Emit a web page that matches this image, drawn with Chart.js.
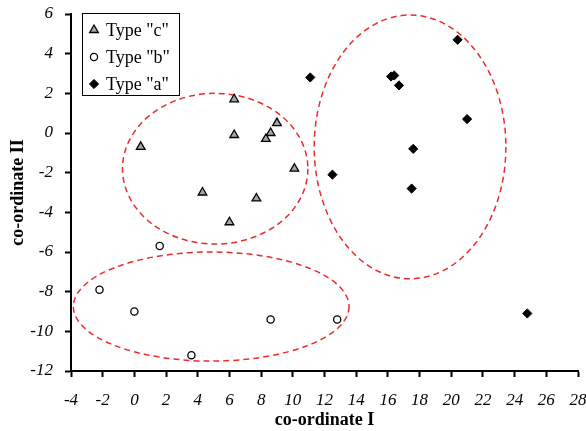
<!DOCTYPE html>
<html>
<head>
<meta charset="utf-8">
<title>co-ordinate I / co-ordinate II</title>
<script src="https://cdn.jsdelivr.net/npm/chart.js@4/dist/chart.umd.min.js"></script>
<style>
  html, body { margin: 0; padding: 0; background: #fff; }
  #wrap { width: 586px; height: 431px; }
</style>
</head>
<body>
<div id="wrap"><canvas id="scatter" width="586" height="431"></canvas></div>
<script>
// data
const seriesNames = ['Type "c"', 'Type "b"', 'Type "a"'];

const typeC_x = [0.4, 6.3, 6.3, 9.0, 8.6, 8.3, 10.1, 4.3, 7.7, 6.0];
const typeC_y = [-0.7, 1.7, -0.1, 0.5, 0.0, -0.3, -1.8, -3.0, -3.3, -4.5];

const typeB_x = [1.6, -2.2, 0.0, 3.6, 8.6, 12.8];
const typeB_y = [-5.7, -7.9, -9.0, -11.2, -9.4, -9.4];

const typeA_x = [11.1, 16.2, 16.4, 16.7, 20.4, 21.0, 17.6, 12.5, 17.5, 24.8];
const typeA_y = [2.8, 2.85, 2.9, 2.4, 4.7, 0.7, -0.8, -2.1, -2.8, -9.1];

// cluster outlines (centre and half-axes, in data units)
const ellipseCx = [5.1, 17.4, 4.85];
const ellipseCy = [-1.8, -0.7, -8.75];
const ellipseRx = [5.85, 6.05, 8.7];
const ellipseRy = [3.8, 6.65, 2.75];

const xMin = -4, xMax = 28, yMin = -12, yMax = 6;

function toPoints(xs, ys) {
    return xs.map((x, i) => ({ x: x, y: ys[i] }));
}

Chart.defaults.font.family = "'Liberation Serif', 'Times New Roman', serif";
Chart.defaults.color = '#000';

// dashed red ellipses round the clusters
const clusterOutlines = {
    id: 'clusterOutlines',
    beforeDatasetsDraw(chart) {
        const ctx = chart.ctx;
        const xs = chart.scales.x, ys = chart.scales.y;
        ctx.save();
        ctx.strokeStyle = '#ee2b2b';
        ctx.lineWidth = 1.5;
        ctx.setLineDash([6, 4]);
        ellipseCx.forEach((cx, i) => {
            const px = xs.getPixelForValue(cx);
            const py = ys.getPixelForValue(ellipseCy[i]);
            const rx = Math.abs(xs.getPixelForValue(cx + ellipseRx[i]) - px);
            const ry = Math.abs(ys.getPixelForValue(ellipseCy[i] + ellipseRy[i]) - py);
            ctx.beginPath();
            ctx.ellipse(px, py, rx, ry, 0, 0, Math.PI * 2);
            ctx.stroke();
        });
        ctx.restore();
    }
};

// boxed legend sitting in the top left corner of the plot
const boxLegend = {
    id: 'boxLegend',
    afterDraw(chart) {
        const ctx = chart.ctx;
        const area = chart.chartArea;
        const left = area.left + 11, top = area.top - 1;
        const w = 97, rowH = 27;
        ctx.save();
        ctx.fillStyle = '#fff';
        ctx.fillRect(left, top, w, rowH * 3 + 1);
        ctx.strokeStyle = '#000';
        ctx.lineWidth = 1;
        ctx.strokeRect(left + 0.5, top + 0.5, w, rowH * 3 + 1);
        chart.data.datasets.forEach((ds, i) => {
            const cy = top + 17 + i * rowH;
            ctx.fillStyle = ds.backgroundColor;
            ctx.strokeStyle = ds.borderColor;
            ctx.lineWidth = ds.borderWidth;
            Chart.helpers.drawPoint(ctx, {
                pointStyle: ds.pointStyle,
                radius: ds.pointRadius,
                borderWidth: ds.borderWidth,
                rotation: 0
            }, left + 12, cy);
            ctx.fillStyle = '#000';
            ctx.font = "18px 'Liberation Serif', 'Times New Roman', serif";
            ctx.textBaseline = 'middle';
            ctx.textAlign = 'left';
            ctx.fillText(ds.label, left + 24, cy + 1);
        });
        ctx.restore();
    }
};

new Chart(document.getElementById('scatter'), {
    type: 'scatter',
    data: {
        datasets: [
            {
                label: seriesNames[0],
                data: toPoints(typeC_x, typeC_y),
                pointStyle: 'triangle',
                backgroundColor: '#a5a5a5',
                borderColor: '#000',
                borderWidth: 1.3,
                pointRadius: 5
            },
            {
                label: seriesNames[1],
                data: toPoints(typeB_x, typeB_y),
                pointStyle: 'circle',
                backgroundColor: '#fff',
                borderColor: '#000',
                borderWidth: 1.3,
                pointRadius: 3.6
            },
            {
                label: seriesNames[2],
                data: toPoints(typeA_x, typeA_y),
                pointStyle: 'rectRot',
                backgroundColor: '#000',
                borderColor: '#000',
                borderWidth: 1,
                pointRadius: 4.6
            }
        ]
    },
    options: {
        responsive: false,
        animation: false,
        layout: { padding: { left: 0, right: 8, top: 14, bottom: 0 } },
        plugins: {
            legend: { display: false },
            tooltip: { enabled: false }
        },
        scales: {
            x: {
                type: 'linear',
                min: xMin,
                max: xMax,
                afterFit(scale) {
                    scale.height = 60;
                    scale.paddingLeft = 0;
                    scale.paddingRight = 0;
                },
                ticks: {
                    stepSize: 2,
                    padding: 13,
                    maxRotation: 0,
                    font: { size: 17, style: 'italic' },
                    color: '#000'
                },
                grid: { drawOnChartArea: false, tickLength: 6, tickWidth: 2, tickColor: '#000' },
                border: { color: '#000', width: 2 },
                title: {
                    display: true,
                    text: 'co-ordinate I',
                    font: { size: 18, weight: 'bold' },
                    color: '#000',
                    padding: { top: 0, bottom: 0 }
                }
            },
            y: {
                type: 'linear',
                min: yMin,
                max: yMax,
                afterFit(scale) {
                    scale.width = 71;
                    scale.paddingTop = 0;
                    scale.paddingBottom = 0;
                },
                ticks: {
                    stepSize: 2,
                    padding: 12,
                    font: { size: 17, style: 'italic' },
                    color: '#000'
                },
                grid: { drawOnChartArea: false, tickLength: 6, tickWidth: 2, tickColor: '#000' },
                border: { color: '#000', width: 2 },
                title: {
                    display: true,
                    text: 'co-ordinate II',
                    font: { size: 18, weight: 'bold' },
                    color: '#000',
                    padding: { top: 8, bottom: 0 }
                }
            }
        }
    },
    plugins: [clusterOutlines, boxLegend]
});
</script>
</body>
</html>
